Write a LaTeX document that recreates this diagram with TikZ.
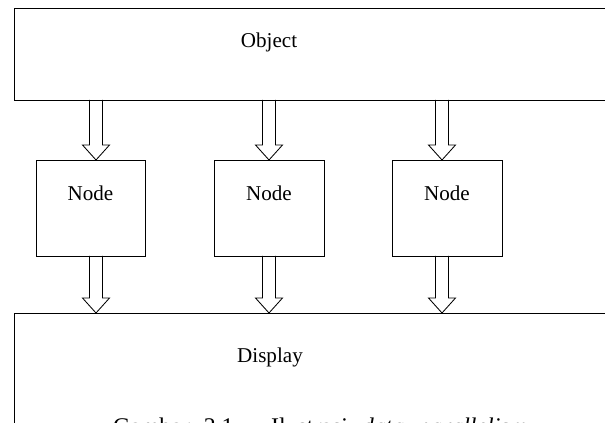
\documentclass[tikz,border=0pt]{standalone}
\usepackage{amsmath}
\usepackage{fontspec}
\setmainfont{Liberation Serif}
\usetikzlibrary{calc}

\tikzset{
	boxline/.style={draw, line width=0.6pt},
	arrowline/.style={draw, line width=0.6pt},
	label font/.style={font=\fontsize{15}{18}\selectfont}
}

% hollow block arrow from one named point down to another
\newcommand{\hollowarrow}[2]{%
	\draw [arrowline] ($(#1)+(-0.1625,0)$) -- ($(#2)+(-0.1625,0.375)$)
		-- ($(#2)+(-0.3375,0.375)$) -- (#2) -- ($(#2)+(0.3375,0.375)$)
		-- ($(#2)+(0.1625,0.375)$) -- ($(#1)+(0.1625,0)$);}

\begin{document}
\begin{tikzpicture}
	\useasboundingbox (0, 0) rectangle (15.125, 10.575);
	\coordinate (Top_1) at (2.4, 8.075);
	\coordinate (Top_2) at (6.725, 8.075);
	\coordinate (Top_3) at (11.05, 8.075);
	\coordinate (In_1) at (2.4, 6.575);
	\coordinate (In_2) at (6.725, 6.575);
	\coordinate (In_3) at (11.05, 6.575);
	\coordinate (Out_1) at (2.4, 4.175);
	\coordinate (Out_2) at (6.725, 4.175);
	\coordinate (Out_3) at (11.05, 4.175);
	\coordinate (Bottom_1) at (2.4, 2.75);
	\coordinate (Bottom_2) at (6.725, 2.75);
	\coordinate (Bottom_3) at (11.05, 2.75);
	\hollowarrow{Top_1}{In_1}
	\hollowarrow{Top_2}{In_2}
	\hollowarrow{Top_3}{In_3}
	\hollowarrow{Out_1}{Bottom_1}
	\hollowarrow{Out_2}{Bottom_2}
	\hollowarrow{Out_3}{Bottom_3}
	\draw [boxline] (15.5, 10.375) -- (0.35, 10.375) -- (0.35, 8.075) -- (15.5, 8.075);
	\node [label font] (Object) at (6.725, 9.525) {Object};
	\draw [boxline] (0.9, 6.575) rectangle (3.625, 4.175);
	\draw [boxline] (5.35, 6.575) rectangle (8.1, 4.175);
	\draw [boxline] (9.8, 6.575) rectangle (12.55, 4.175);
	\node [label font] (Node_1) at (2.2625, 5.75) {Node};
	\node [label font] (Node_2) at (6.725, 5.75) {Node};
	\node [label font] (Node_3) at (11.175, 5.75) {Node};
	\draw [boxline] (15.5, 2.75) -- (0.35, 2.75) -- (0.35, -0.5);
	\node [label font] (Display) at (6.75, 1.65) {Display};
	\node [anchor=base, inner sep=0pt, font=\fontsize{17}{20}\selectfont] (Caption) at (8.0, -0.3)
		{\makebox[10.35cm][s]{Gambar 2.1. Ilustrasi \textit{data parallelism}}};
\end{tikzpicture}
\end{document}
